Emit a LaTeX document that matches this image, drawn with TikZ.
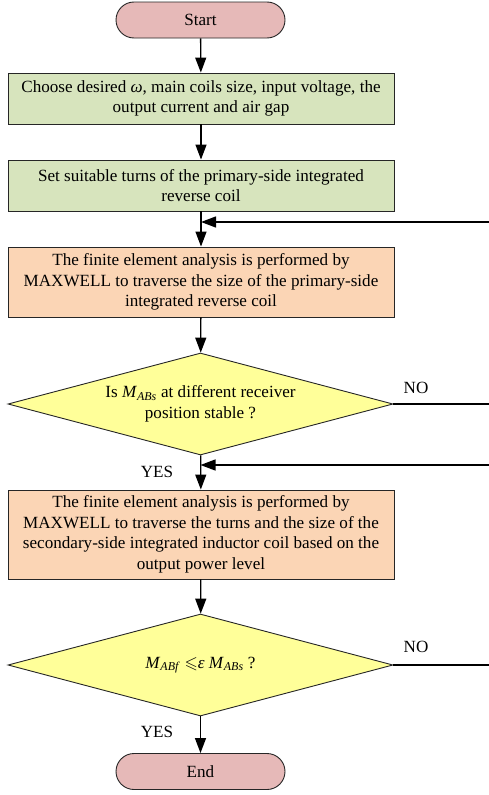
\documentclass[tikz,border=0pt]{standalone}
\usepackage{amssymb}
\usepackage{fontspec}
\setmainfont{Liberation Serif}
\usetikzlibrary{shapes.geometric,arrows.meta}

\definecolor{termred}{HTML}{E6B9B8}
\definecolor{stepgreen}{HTML}{D7E4BD}
\definecolor{steporange}{HTML}{FBD5B5}
\definecolor{testyellow}{HTML}{FFFF99}

\newcommand{\Mab}[1]{\textit{M}\textsubscript{\textit{#1}}}

\begin{document}
\begin{tikzpicture}[x=1pt, y=-1pt,
    every node/.style={font=\fontsize{17.1}{20.5}\selectfont},
    term/.style={draw=black!85, line width=0.9pt, fill=termred, rounded corners=18pt,
        minimum width=169pt, minimum height=36pt},
    stepbox/.style={draw=black!85, line width=0.9pt, minimum width=386pt,
        align=center, inner sep=0pt},
    test/.style={draw=black!85, line width=0.9pt, fill=testyellow, shape=diamond,
        aspect=3.77, inner sep=0pt, align=center, minimum width=385pt, minimum height=102pt},
    arr/.style={line width=1.3pt, -{Triangle[length=15pt, width=11pt]}},
    feed/.style={line width=1.3pt}]
    \useasboundingbox (0, 0) rectangle (489, 795);

    \node [term] (start) at (200.5, 20) {Start};
    \node [stepbox, fill=stepgreen, minimum height=51pt] (choose) at (201, 98.5)
        {Choose desired \textit{ω}, main coils size, input voltage, the\\output current and air gap};
    \node [stepbox, fill=stepgreen, minimum height=51pt] (turns) at (201, 185.5)
        {Set suitable turns of the primary-side integrated\\reverse coil};
    \node [stepbox, fill=steporange, minimum height=70pt] (primary) at (201, 282)
        {The finite element analysis is performed by\\MAXWELL to traverse the size of the primary-side\\integrated reverse coil};
    \node [test] (stable) at (200.5, 404)
        {Is \Mab{ABs} at different receiver\\position stable ?};
    \node [stepbox, fill=steporange, minimum height=89pt] (secondary) at (201, 534.5)
        {The finite element analysis is performed by\\MAXWELL to traverse the turns and the size of the\\secondary-side integrated inductor coil based on the\\output power level};
    \node [test] (ratio) at (200.5, 665)
        {\Mab{ABf} $\leqslant$\textit{ε} \Mab{ABs} ?};
    \node [term] (end) at (200.5, 771.5) {End};

    % loop ends, cut at the right border
    \coordinate (in1)  at (489, 222);
    \coordinate (in2)  at (489, 465);
    \coordinate (out1) at (489, 404);
    \coordinate (out2) at (489, 665);

    \draw [arr] (start) -- (choose);
    \draw [arr] (choose) -- (turns);
    \draw [arr] (turns) -- (primary);
    \draw [arr] (primary) -- (stable);
    \draw [arr] (stable) -- (secondary);
    \draw [arr] (secondary) -- (ratio);
    \draw [arr] (ratio) -- (end);

    \draw [arr] (in1) -- (in1 -| turns.south);
    \draw [arr] (in2) -- (in2 -| stable.south);
    \draw [feed] (stable.east) -- (out1);
    \draw [feed] (ratio.east) -- (out2);

    \node (no1)  at (416, 388) {NO};
    \node (no2)  at (416, 647) {NO};
    \node (yes1) at (157, 472) {YES};
    \node (yes2) at (157, 732) {YES};
\end{tikzpicture}
\end{document}
